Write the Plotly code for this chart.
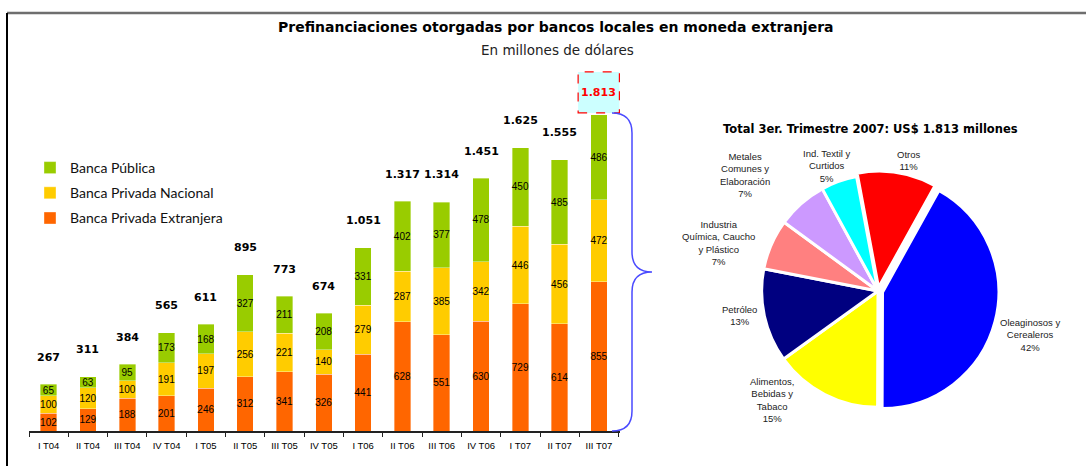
import plotly.graph_objects as go

W, H = 1086, 466

quarters = ["I T04", "II T04", "III T04", "IV T04", "I T05", "II T05", "III T05", "IV T05",
            "I T06", "II T06", "III T06", "IV T06", "I T07", "II T07", "III T07"]
extranjera = [102, 129, 188, 201, 246, 312, 341, 326, 441, 628, 551, 630, 729, 614, 855]
nacional = [100, 120, 100, 191, 197, 256, 221, 140, 279, 287, 385, 342, 446, 456, 472]
publica = [65, 63, 95, 173, 168, 327, 211, 208, 331, 402, 377, 478, 450, 485, 486]
totales = [267, 311, 384, 565, 611, 895, 773, 674, 1051, 1317, 1314, 1451, 1625, 1555, 1813]

sectores = ["Oleaginosos y<br>Cerealeros", "Alimentos,<br>Bebidas y<br>Tabaco", "Petróleo",
            "Industria<br>Química, Caucho<br>y Plástico", "Metales<br>Comunes y<br>Elaboración",
            "Ind. Textil y<br>Curtidos", "Otros"]
porcentajes = [42, 15, 13, 7, 7, 5, 11]

# styles
pie_colors = ["#0000ff", "#ffff00", "#000080", "#ff8080", "#cc99ff", "#00ffff", "#ff0000"]
label_centers_px = [(1030, 335), (772, 400), (739, 315), (718, 243), (745, 175), (827, 166), (908, 160)]
GREEN, YELLOW, ORANGE = "#99cc00", "#ffcc00", "#ff6600"


def fmt(v):
    return f"{v:,}".replace(",", ".")


def px(x, y):
    return x / W, 1 - y / H


# bar plot geometry (pixels)
X0, X1 = 29, 620
YB, YT = 431, 60
YMAX = 2128
ppu = (YB - YT) / YMAX

fig = go.Figure()
seg_font = dict(family="Liberation Sans, Arial, sans-serif", size=10, color="black")
for name, vals, col, rank in [("Banca Privada Extranjera", extranjera, ORANGE, 3),
                              ("Banca Privada Nacional", nacional, YELLOW, 2),
                              ("Banca Pública", publica, GREEN, 1)]:
    fig.add_trace(go.Bar(
        x=quarters, y=vals, name=name, legendgroup=name, legendrank=rank,
        marker=dict(color=col, line=dict(width=0.6, color="rgba(255,255,255,0.6)")),
        text=[str(v) for v in vals], textposition="inside", insidetextanchor="middle",
        textangle=0, textfont=seg_font, hoverinfo="x+y+name",
    ))

fig.add_trace(go.Pie(
    labels=[s.replace("<br>", " ") for s in sectores], values=porcentajes,
    textinfo="none",
    marker=dict(colors=pie_colors, line=dict(color="white", width=3)),
    sort=False, direction="clockwise", rotation=29,
    pull=[0.04, 0, 0, 0, 0, 0, 0.03],
    domain=dict(x=[757 / W, 999 / W], y=[1 - 412 / H, 1 - 170 / H]),
    showlegend=False, hoverinfo="label+percent",
))

ann = []
tot_font = dict(family="DejaVu Sans, sans-serif", size=11, color="black")
for q, t in zip(quarters[:-1], totales[:-1]):
    ann.append(dict(x=q, y=t, xref="x", yref="y", text=f"<b>{fmt(t)}</b>", showarrow=False,
                    yshift=27, font=tot_font, xanchor="center", yanchor="middle"))

# highlighted last total
last_i = len(quarters) - 1
box_bottom = totales[-1] + 2 / ppu
box_top = box_bottom + 41 / ppu
ann.append(dict(x=quarters[-1], y=(box_bottom + box_top) / 2, xref="x", yref="y",
                text=f"<b>{fmt(totales[-1])}</b>", showarrow=False, xanchor="center", yanchor="middle",
                font=dict(family="DejaVu Sans, sans-serif", size=11, color="#ff0000")))

# pie labels
tot_pct = sum(porcentajes)
for s, v, (cx, cy) in zip(sectores, porcentajes, label_centers_px):
    ax, ay = px(cx, cy)
    ann.append(dict(x=ax, y=ay, xref="paper", yref="paper", showarrow=False,
                    xanchor="center", yanchor="middle",
                    text=f"{s}<br>{round(100 * v / tot_pct)}%", align="center",
                    font=dict(family="Liberation Sans, Arial, sans-serif", size=9.5, color="#222")))

tx, ty = px(556, 27)
ann.append(dict(x=tx, y=ty, xref="paper", yref="paper", showarrow=False, xanchor="center", yanchor="middle",
                text="<b>Prefinanciaciones otorgadas por bancos locales en moneda extranjera</b>",
                font=dict(family="DejaVu Sans, sans-serif", size=14, color="black")))
tx, ty = px(557, 50)
ann.append(dict(x=tx, y=ty, xref="paper", yref="paper", showarrow=False, xanchor="center", yanchor="middle",
                text="En millones de dólares",
                font=dict(family="DejaVu Sans, sans-serif", size=13.5, color="#222")))
tx, ty = px(870, 129)
ann.append(dict(x=tx, y=ty, xref="paper", yref="paper", showarrow=False, xanchor="center", yanchor="middle",
                text="<b>Total 3er. Trimestre 2007: US$ 1.813 millones</b>",
                font=dict(family="DejaVu Sans, sans-serif", size=11.5, color="black")))

shapes = []
# frame
a = px(7, 13); b = px(W, 13); c = px(7, H)
shapes.append(dict(type="line", xref="paper", yref="paper", x0=a[0], y0=a[1], x1=b[0], y1=b[1],
                   line=dict(color="#6e6e6e", width=2.5)))
shapes.append(dict(type="line", xref="paper", yref="paper", x0=a[0], y0=a[1], x1=c[0], y1=c[1],
                   line=dict(color="black", width=2)))
# box around last total
shapes.append(dict(type="rect", xref="x", yref="y", x0=last_i - 0.53, x1=last_i + 0.52,
                   y0=box_bottom, y1=box_top, fillcolor="#ccffff",
                   line=dict(color="#ff0000", width=1.2, dash="dash"), layer="below"))

# brace
pts = [(612, 113), (632, 113), (632, 133), (632, 252), (632, 272), (652, 272), (632, 272),
       (632, 292), (632, 411), (632, 431), (612, 431)]
p = [px(*q) for q in pts]
path = (f"M {p[0][0]},{p[0][1]} Q {p[1][0]},{p[1][1]} {p[2][0]},{p[2][1]} "
        f"L {p[3][0]},{p[3][1]} Q {p[4][0]},{p[4][1]} {p[5][0]},{p[5][1]} "
        f"Q {p[6][0]},{p[6][1]} {p[7][0]},{p[7][1]} L {p[8][0]},{p[8][1]} "
        f"Q {p[9][0]},{p[9][1]} {p[10][0]},{p[10][1]}")
shapes.append(dict(type="path", xref="paper", yref="paper", path=path,
                   line=dict(color="#4a4aff", width=1.5)))

lx, ly = px(30, 152)
fig.update_layout(
    width=W, height=H, margin=dict(l=0, r=0, t=0, b=0),
    paper_bgcolor="white", plot_bgcolor="white",
    barmode="stack", bargap=0.58,
    uniformtext=dict(minsize=10, mode="show"),
    xaxis=dict(domain=[X0 / W, X1 / W], type="category", showline=True, linecolor="#222",
               linewidth=2, ticks="outside", tickson="boundaries", ticklen=4, tickcolor="#222",
               showgrid=False, zeroline=False, ticklabelstandoff=5, tickangle=0,
               tickfont=dict(family="Liberation Sans, Arial, sans-serif", size=9.5, color="black")),
    yaxis=dict(domain=[1 - YB / H, 1 - YT / H], range=[0, YMAX], visible=False, fixedrange=True),
    legend=dict(x=lx, y=ly, xanchor="left", yanchor="top", traceorder="grouped",
                tracegroupgap=4, bgcolor="rgba(0,0,0,0)",
                font=dict(family="Lato, sans-serif", size=14, color="#111")),
    annotations=ann, shapes=shapes, showlegend=True,
)

fig.write_html("out.html", config={"displayModeBar": False},
               post_script="document.body.style.margin='0px';")
